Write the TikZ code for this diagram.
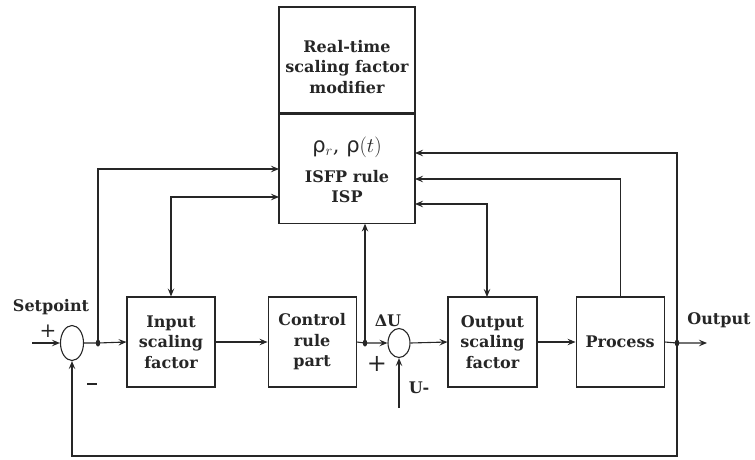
\documentclass[tikz,border=0pt]{standalone}
\usepackage{fontspec}
\setmainfont{DejaVu Serif}
\newfontfamily\grkfont{DejaVu Sans}
\usetikzlibrary{shapes.geometric,arrows.meta,positioning,calc}

\begin{document}
\begin{tikzpicture}[
  x=1pt, y=-1pt,
  line width=1.1pt, color=black!85,
  font=\fontsize{16}{20.5}\selectfont\bfseries,
  blk/.style={draw, rectangle, minimum width=88pt, minimum height=90pt, align=center, inner sep=0pt},
  sumnode/.style={draw, ellipse, inner sep=0pt, minimum width=23pt, minimum height=35pt},
  dot/.style={fill, ellipse, inner sep=0pt, minimum width=4.5pt, minimum height=7pt},
  sig/.style={-{Stealth[length=8pt,width=6.5pt,inset=3pt]}},
  bisig/.style={{Stealth[length=8pt,width=6.5pt,inset=3pt]}-{Stealth[length=8pt,width=6.5pt,inset=3pt]}},
]
\useasboundingbox (0,0) rectangle (755,460);

% supervisory blocks
\node[blk, minimum width=136pt, minimum height=106pt] (mod) at (347,60) {};
\node[align=center] (modtxt) at (347,67) {Real-time\\scaling factor\\modifier};
\node[blk, minimum width=136pt, minimum height=109pt, below=0pt of mod] (isp) {};
\node[align=center] (isptxt) at (347,170)
  {{\mdseries\fontsize{21}{22}\selectfont{\grkfont ρ}$_r$, {\grkfont ρ}$(t)$}\\[9pt] ISFP rule\\ISP};

% main loop
\node[sumnode] (sum1) at (72,343) {};
\node[blk] (insf) at (171,342) {Input\\scaling\\factor};
\node[blk, right=52pt of insf] (crp) {Control\\rule\\part};
\node[sumnode, minimum width=22pt, minimum height=29pt] (sum2) at (399,343) {};
\node[blk, minimum width=89pt] (outsf) at (492.5,342) {Output\\scaling\\factor};
\node[blk, right=38pt of outsf] (proc) {Process};

\node[dot] (d1) at (98,343) {};
\node[dot] (d2) at (365,343) {};
\node[dot] (d3) at (677,343) {};

\coordinate (sp) at (32,343);
\coordinate (out) at (707,343);
\coordinate (uin) at (399,408);
\coordinate (fb) at (677,456);
\coordinate (oport) at (487,297);
\coordinate (pL1) at (279,169);
\coordinate (pL2) at (279,197);
\coordinate (pR1) at (415,153);
\coordinate (pR2) at (415,179);
\coordinate (pR3) at (415,204);

% labels
\node (setpt) at (51,307) {Setpoint};
\node (plus1) at (48,331) {\mdseries\fontsize{20}{20}\selectfont +};
\node (minus1) at (92,384) {\rule{10pt}{2.6pt}};
\node (du) at (388,321) {ΔU};
\node (plus2) at (377,364) {\mdseries\fontsize{24}{24}\selectfont +};
\node (uminus) at (419,388) {U-};
\node (outlbl) at (719,320) {Output};

% connectors
\draw[sig] (sp) -- (sum1.west);
\draw[sig] (sum1.east) -- (d1.center) -- (insf.west);
\draw[sig] (insf.east) -- (crp.west);
\draw[sig] (crp.east) -- (d2.center) -- (sum2.west);
\draw[sig] (sum2.east) -- (outsf.west);
\draw[sig] (outsf.east) -- (proc.west);
\draw[sig] (proc.east) -- (d3.center) -- (out);
\draw[sig] (uin) -- (sum2.south);
\draw[sig] (d3.center) -- (fb) -| (sum1.south);

\draw[sig] (d1.center) |- (pL1);
\draw[bisig] (insf.north) |- (pL2);
\draw[sig] (d2.center) -- (d2 |- isp.south);
\draw[sig] (d3.center) |- (pR1);
\draw[sig] (proc.north) |- (pR2);
\draw[bisig] (oport) |- (pR3);
\end{tikzpicture}
\end{document}
